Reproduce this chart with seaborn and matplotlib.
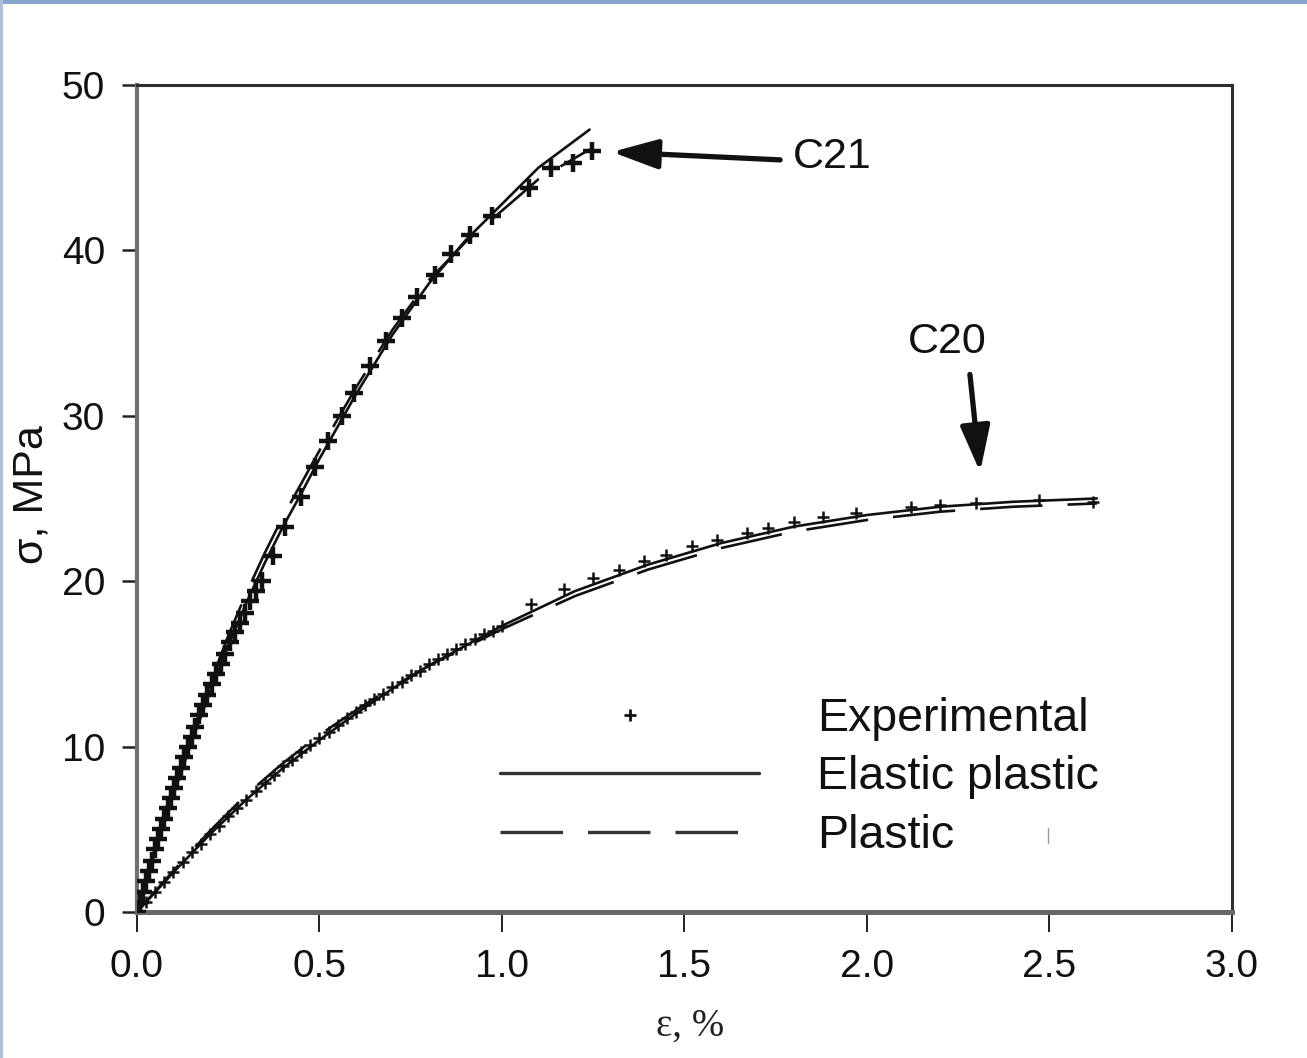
import matplotlib
matplotlib.use("Agg")
import matplotlib.pyplot as plt
from matplotlib.lines import Line2D
from matplotlib.patches import Rectangle
import seaborn as sns
import pandas as pd

# ---- strain (%) / stress (MPa) readings ----
# C21: experimental points
c21_exp_eps = [0.000, 0.008, 0.016, 0.025, 0.033, 0.041, 0.050, 0.058, 0.066, 0.075,
               0.084, 0.093, 0.102, 0.111, 0.120, 0.130, 0.140, 0.150, 0.160, 0.171,
               0.182, 0.193, 0.205, 0.217, 0.229, 0.242, 0.255, 0.268, 0.282, 0.296,
               0.311, 0.326, 0.342, 0.373, 0.405, 0.449, 0.488, 0.523, 0.562, 0.595,
               0.638, 0.682, 0.726, 0.767, 0.816, 0.860, 0.912, 0.973, 1.074, 1.134,
               1.195, 1.247]
c21_exp_sig = [0.0, 0.6, 1.2, 1.9, 2.5, 3.1, 3.8, 4.4, 5.0, 5.6,
               6.3, 6.9, 7.5, 8.1, 8.7, 9.4, 10.0, 10.6, 11.2, 11.9,
               12.5, 13.1, 13.8, 14.4, 15.0, 15.6, 16.3, 16.9, 17.5, 18.1,
               18.8, 19.4, 20.0, 21.5, 23.3, 25.1, 26.9, 28.5, 30.0, 31.4,
               33.0, 34.5, 35.9, 37.2, 38.5, 39.8, 40.9, 42.1, 43.8, 45.0,
               45.3, 46.0]

# C21: elastic-plastic model
c21_ep_eps = [0.0, 0.05, 0.10, 0.15, 0.20, 0.25, 0.30, 0.35, 0.40, 0.45, 0.50,
              0.60, 0.70, 0.80, 0.90, 1.00, 1.10, 1.24]
c21_ep_sig = [0.0, 3.7, 7.1, 10.3, 13.3, 16.1, 18.7, 21.1, 23.3, 25.3, 27.4,
              31.3, 34.9, 38.0, 40.6, 42.8, 45.0, 47.3]

# C21: plastic model
c21_pl_eps = [0.0, 0.05, 0.10, 0.15, 0.20, 0.25, 0.30, 0.35, 0.40, 0.45, 0.50,
              0.60, 0.70, 0.80, 0.90, 1.00, 1.10, 1.24]
c21_pl_sig = [0.0, 3.9, 7.4, 10.7, 13.8, 16.7, 19.3, 21.7, 23.9, 25.9, 27.9,
              31.7, 35.2, 38.2, 40.5, 42.4, 44.3, 46.1]

# C20: experimental points
c20_exp_eps = [0.000, 0.025, 0.050, 0.075, 0.100, 0.125, 0.150, 0.175, 0.200, 0.225,
               0.250, 0.275, 0.300, 0.325, 0.350, 0.375, 0.400, 0.425, 0.450, 0.475,
               0.500, 0.525, 0.550, 0.575, 0.600, 0.625, 0.650, 0.675, 0.700, 0.725,
               0.750, 0.775, 0.800, 0.825, 0.850, 0.875, 0.900, 0.925, 0.950, 0.975,
               1.000, 1.08, 1.17, 1.25, 1.32, 1.39, 1.45, 1.52, 1.59, 1.67,
               1.73, 1.80, 1.88, 1.97, 2.12, 2.20, 2.30, 2.47, 2.62]
c20_exp_sig = [0.0, 0.6, 1.2, 1.8, 2.4, 3.0, 3.6, 4.1, 4.7, 5.2,
               5.8, 6.3, 6.8, 7.3, 7.8, 8.3, 8.8, 9.2, 9.7, 10.1,
               10.5, 10.9, 11.3, 11.7, 12.1, 12.5, 12.9, 13.2, 13.6, 13.9,
               14.3, 14.6, 15.0, 15.3, 15.6, 15.9, 16.2, 16.5, 16.8, 17.0,
               17.3, 18.6, 19.5, 20.2, 20.7, 21.2, 21.6, 22.1, 22.5, 22.9,
               23.2, 23.6, 23.9, 24.1, 24.5, 24.6, 24.7, 24.9, 24.8]

# C20: elastic-plastic model
c20_ep_eps = [0.0, 0.1, 0.2, 0.3, 0.4, 0.5, 0.6, 0.7, 0.8, 0.9, 1.0,
              1.2, 1.4, 1.6, 1.8, 2.0, 2.2, 2.4, 2.63]
c20_ep_sig = [0.0, 2.4, 4.7, 6.8, 8.7, 10.4, 12.0, 13.5, 14.9, 16.1, 17.3,
              19.4, 21.0, 22.3, 23.3, 24.0, 24.5, 24.8, 25.0]

# C20: plastic model
c20_pl_eps = [0.0, 0.1, 0.2, 0.3, 0.4, 0.5, 0.6, 0.7, 0.8, 0.9, 1.0,
              1.2, 1.4, 1.6, 1.8, 2.0, 2.2, 2.4, 2.63]
c20_pl_sig = [0.0, 2.5, 4.9, 7.1, 9.0, 10.7, 12.2, 13.6, 14.9, 16.0, 17.1,
              19.1, 20.7, 22.0, 23.0, 23.7, 24.2, 24.5, 24.7]

x_ticks = [0.0, 0.5, 1.0, 1.5, 2.0, 2.5, 3.0]
x_tick_labels = ["0.0", "0.5", "1.0", "1.5", "2.0", "2.5", "3.0"]
y_ticks = [0, 10, 20, 30, 40, 50]
y_tick_labels = ["0", "10", "20", "30", "40", "50"]
legend_labels = ["Experimental", "Elastic plastic", "Plastic"]

# ---- style ----
sns.set_style("ticks")
plt.rcParams["font.family"] = ["Liberation Sans", "DejaVu Sans"]
plt.rcParams["lines.scale_dashes"] = False
TICK_FONT = ["Liberation Sans Narrow", "Liberation Sans", "DejaVu Sans"]
DASH = (0, (45, 18))
INK = "#111111"

fig = plt.figure(figsize=(13.07, 10.58), dpi=100)
fig.patch.set_facecolor("white")
ax = fig.add_axes([0.1048, 0.138, 0.8378, 0.7817])
ax.set_facecolor("white")

# model curves
for eps, sig, ls in [(c21_ep_eps, c21_ep_sig, "-"), (c21_pl_eps, c21_pl_sig, DASH),
                     (c20_ep_eps, c20_ep_sig, "-"), (c20_pl_eps, c20_pl_sig, DASH)]:
    df = pd.DataFrame({"eps": eps, "sig": sig})
    sns.lineplot(data=df, x="eps", y="sig", sort=False, estimator=None,
                 color=INK, linewidth=1.9, linestyle=ls, ax=ax)

# experimental points
sns.scatterplot(x=c21_exp_eps, y=c21_exp_sig, marker="+", s=170, linewidth=3.2,
                color=INK, ax=ax, zorder=3)
sns.scatterplot(x=c20_exp_eps, y=c20_exp_sig, marker="+", s=75, linewidth=1.8,
                color=INK, ax=ax, zorder=3)

ax.set_xlim(0, 3.0)
ax.set_ylim(0, 50)
ax.set_xticks(x_ticks)
ax.set_xticklabels(x_tick_labels, family=TICK_FONT, fontsize=28)
ax.set_yticks(y_ticks)
ax.set_yticklabels(y_tick_labels, family=TICK_FONT, fontsize=28)
ax.tick_params(axis="x", direction="out", length=14.5, width=1.4, color="#222222",
               pad=12, labelcolor="#111111")
ax.tick_params(axis="y", direction="out", length=11, width=1.8, color="#222222",
               pad=12, labelcolor="#111111")

for name, col, lw in [("top", "#2f2f2f", 2.2), ("right", "#2f2f2f", 2.2),
                      ("left", "#6f6f6f", 3.0), ("bottom", "#676767", 3.6)]:
    ax.spines[name].set_visible(True)
    ax.spines[name].set_color(col)
    ax.spines[name].set_linewidth(lw)

ax.set_xlabel("ε, %", family=["Liberation Serif", "DejaVu Serif"], fontsize=28,
              color="#222222")
ax.set_ylabel("σ, MPa", fontsize=31, color="#111111")
ax.xaxis.set_label_coords(0.505, -0.116)
ax.yaxis.set_label_coords(-0.078, 0.505)

# specimen labels
arrow = dict(arrowstyle="-|>,head_length=1.4,head_width=0.45", color=INK,
             lw=3.8, mutation_scale=20, shrinkA=0, shrinkB=0)
ax.annotate("", xy=(1.301, 45.95), xytext=(1.762, 45.47), arrowprops=arrow)
ax.text(1.797, 45.65, "C21", fontsize=31, ha="left", va="center", color=INK)
ax.annotate("", xy=(2.31, 26.6), xytext=(2.282, 32.5), arrowprops=arrow)
ax.text(2.219, 34.46, "C20", fontsize=31, ha="center", va="center", color=INK)

# legend
handles = [
    Line2D([], [], linestyle="none", marker="+", markersize=9, markeredgewidth=2.0,
           color=INK),
    Line2D([], [], linestyle="-", linewidth=2.4, color="#333333"),
    Line2D([], [], linestyle=DASH, linewidth=2.4, color="#333333"),
]
ax.legend(handles, legend_labels, loc="upper left", bbox_to_anchor=(0.3315, 0.2600),
          frameon=False, fontsize=33.5, handlelength=5.57, handletextpad=1.24,
          labelspacing=0.31, borderpad=0, borderaxespad=0, labelcolor="#111111")

# stray tick mark inside the legend area
fig.add_artist(Line2D([1048 / 1307, 1048 / 1307], [(1058 - 828) / 1058, (1058 - 843) / 1058],
                      color="#9a9a9a", linewidth=1.0))

# thin blue frame along the top and left edges
fig.add_artist(Rectangle((0, 1 - 4 / 1058), 1, 4 / 1058, transform=fig.transFigure,
                         facecolor="#86a6cc", edgecolor="none"))
fig.add_artist(Rectangle((0, 0), 3 / 1307, 1, transform=fig.transFigure,
                         facecolor="#a9c0de", edgecolor="none"))

fig.savefig("out.png", dpi=100)
